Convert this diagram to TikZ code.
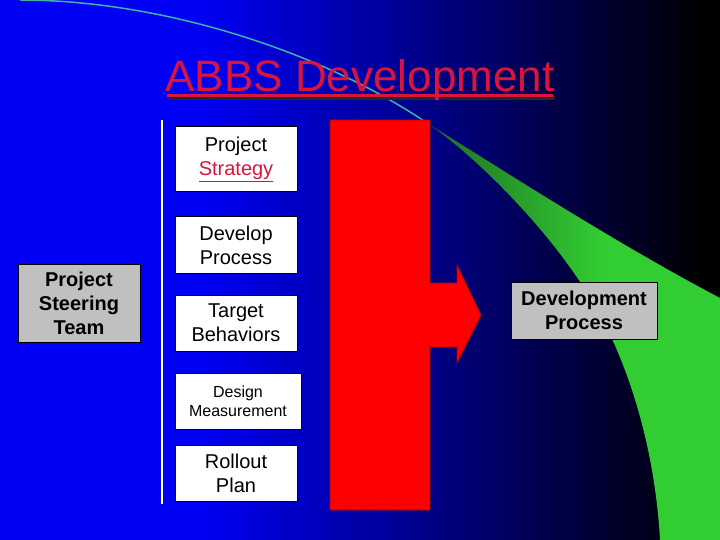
\documentclass[tikz,border=0pt]{standalone}
\usepackage{fontspec}
\setmainfont{Liberation Sans}
\usepackage{xcolor}
\usepackage{tikz}

\definecolor{bgblue}{RGB}{0,0,245}
\definecolor{titlered}{RGB}{220,20,60}
\definecolor{swdark}{RGB}{30,110,35}
\definecolor{swlime}{RGB}{50,205,50}
\definecolor{swline}{RGB}{60,180,170}
\definecolor{boxgrey}{RGB}{192,192,192}
\definecolor{arrowred}{RGB}{255,0,0}
\pgfdeclarehorizontalshading{swoosh}{100bp}{color(0bp)=(swdark); color(25bp)=(swdark); color(55bp)=(swlime); color(100bp)=(swlime)}

\begin{document}
\begin{tikzpicture}[x=1pt, y=-1pt,
  stepbox/.style={draw=black, fill=white, line width=1pt, minimum width=122pt, minimum height=56pt, inner sep=0pt, align=center, font=\fontsize{20}{24}\selectfont},
  greybox/.style={stepbox, fill=boxgrey, font=\fontsize{20}{24}\selectfont\bfseries}]
\useasboundingbox (0,0) rectangle (720,540);
% Background
\fill[bgblue] (0,0) rectangle (200,540);
\shade[left color=bgblue, right color=black] (200,0) rectangle (705,540);
\fill[black] (705,0) rectangle (720,540);

% Swoosh
\draw[swline, line width=1.5pt] (20,0) .. controls (160,0) and (320,50) .. (430,125);
\shade[shading=swoosh] (430,125) .. controls (500,168) and (610,240) .. (720,298) -- (720,540) -- (660,540) .. controls (655,450) and (630,370) .. (600,315) .. controls (560,240) and (480,160) .. (430,125) -- cycle;

% Title
\fill[black!85] (169,96) rectangle (555,100);
\node[text=titlered, anchor=base] (title) at (360,92) {\fontsize{44}{50}\selectfont ABBS Development};
\fill[titlered] (167,94) rectangle (553,97.5);

% Arrow
\draw[arrowred!70!black, fill=arrowred, line width=0.8pt] (330,120) -- (430,120) -- (430,283) -- (457,283) -- (457,265) -- (481,315) -- (457,363) -- (457,347) -- (430,347) -- (430,510) -- (330,510) -- cycle;

% Divider
\draw[white, line width=1.2pt] (162,120) -- (162,504);

% Steps
\node[stepbox, minimum height=65pt] (strategy) at (236,159.5) {Project\\\textcolor{titlered}{\underline{Strategy}}};
\node[stepbox] (develop) at (236,245) {Develop\\Process};
\node[stepbox] (target) at (236,323) {Target\\Behaviors};
\node[stepbox, minimum width=126pt, font=\fontsize{16}{19}\selectfont] (measure) at (238,401) {Design\\Measurement};
\node[stepbox] (rollout) at (236,473) {Rollout\\Plan};

% Grey boxes
\node[greybox, minimum height=78pt] (steering) at (79,303) {Project\\Steering\\Team};
\node[greybox, minimum width=146pt, minimum height=57pt] (devprocess) at (584,310.5) {Development\\Process};
\end{tikzpicture}
\end{document}
